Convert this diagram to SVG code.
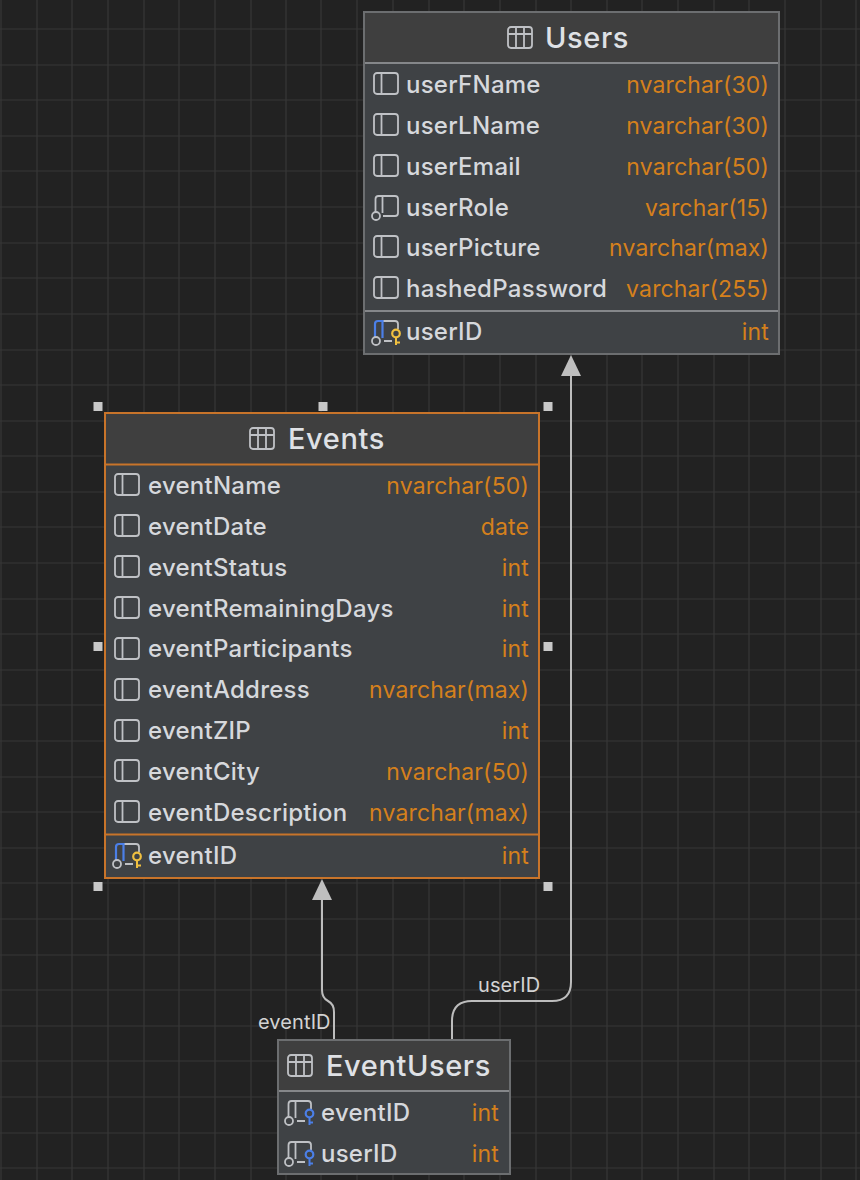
<svg xmlns="http://www.w3.org/2000/svg" width="860" height="1180" viewBox="0 0 860 1180">
<defs>
<style>
text{font-family:"Inter","Liberation Sans",sans-serif}
.title{font-size:29px;font-weight:500;fill:#dfe1e5;letter-spacing:.6px}
.n{font-size:24px;font-weight:500;fill:#d6d8dc;letter-spacing:.25px}
.t{font-size:23px;fill:#d5801c;text-anchor:end;letter-spacing:.15px}
.lab{font-size:20px;fill:#d3d3d3;letter-spacing:.1px}
.body{fill:#3f4245}
.head{fill:#3f3f3f}
.ic{fill:none;stroke:#bfc1c5;stroke-width:1.800}
.conn{fill:none;stroke:#bdbdbd;stroke-width:2}
.h{fill:#c8c8c8}
.a{fill:#bfbfbf}
</style>
<g id="col"><rect x="0" y="0" width="24" height="21" rx="3" class="ic"/><path d="M7.500 0V21" class="ic"/></g>
<g id="tbl"><rect x="0" y="0" width="24" height="21" rx="3" class="ic"/><path d="M0 7H24M8 0V21M16 0V21" class="ic"/></g>
<g id="fk"><path d="M1.500 16V3Q1.500 0 4.500 0H21Q24 0 24 3V17Q24 20 21 20H9M8.500 0V17" class="ic"/><circle cx="2" cy="20" r="4" fill="#3f4245" stroke="#bfc1c5" stroke-width="1.800"/></g>
<g id="pkf"><path d="M9 0H21Q24 0 24 3V8M10 20H18" class="ic"/><path d="M1 16V3Q1 0 4 0H8.500V17" fill="none" stroke="#4b7fe8" stroke-width="2.200"/><circle cx="2" cy="20" r="4" fill="#3f4245" stroke="#bfc1c5" stroke-width="1.800"/><circle cx="22" cy="12.500" r="3.800" fill="none" stroke="#f0c040" stroke-width="2.200"/><path d="M22 16V24M22 21.500H26" fill="none" stroke="#f0c040" stroke-width="2"/></g>
<g id="fkf"><path d="M1.500 16V3Q1.500 0 4.500 0H21Q24 0 24 3V8M8.500 0V17M10 20H18" class="ic"/><circle cx="2" cy="20" r="4" fill="#3f4245" stroke="#bfc1c5" stroke-width="1.800"/><circle cx="22.500" cy="12.500" r="3.800" fill="none" stroke="#4b7fe8" stroke-width="2.200"/><path d="M22.500 16V24M22.500 21.500H26" fill="none" stroke="#4b7fe8" stroke-width="2"/></g>
</defs>
<rect width="860" height="1180" fill="#222222"/>
<path id="grid" fill="none" stroke="#373737" stroke-width="1.200" d="M1 0V1180M37 0V1180M72 0V1180M108 0V1180M144 0V1180M179 0V1180M215 0V1180M251 0V1180M286 0V1180M321 0V1180M357 0V1180M393 0V1180M429 0V1180M464 0V1180M500 0V1180M536 0V1180M571 0V1180M607 0V1180M642 0V1180M678 0V1180M714 0V1180M749 0V1180M785 0V1180M821 0V1180M856 0V1180M0 29H860M0 65H860M0 100H860M0 136H860M0 171H860M0 207H860M0 243H860M0 278H860M0 314H860M0 350H860M0 385H860M0 421H860M0 456H860M0 492H860M0 527H860M0 563H860M0 599H860M0 634H860M0 670H860M0 705H860M0 741H860M0 777H860M0 812H860M0 848H860M0 883H860M0 919H860M0 955H860M0 990H860M0 1026H860M0 1061H860M0 1097H860M0 1133H860M0 1168H860"/>
<g id="connectors">
<path class="conn" d="M571 372V982Q571 1001 552 1001H472Q452 1001 452 1021V1040"/>
<path class="a" d="M571 355L581 376H561Z"/>
<path class="conn" d="M322 897V990Q322 998 328 1001Q334 1004 334 1012V1040"/>
<path class="a" d="M322 879L332 900H312Z"/>
<text class="lab" x="478" y="992">userID</text>
<text class="lab" x="258" y="1029">eventID</text>
</g>
<g id="users">
<rect x="364" y="12" width="415" height="342" class="body" stroke="#6c6e70" stroke-width="2"/>
<rect x="365" y="13" width="413" height="50" class="head"/>
<path d="M365 63H778M365 311H778" stroke="#85878a" stroke-width="2"/>
<use href="#tbl" x="508" y="27"/><text class="title" x="545" y="48">Users</text>
<use href="#col" x="374" y="73"/><text class="n" x="406" y="93">userFName</text><text class="t" x="769" y="93">nvarchar(30)</text>
<use href="#col" x="374" y="114"/><text class="n" x="406" y="134">userLName</text><text class="t" x="769" y="134">nvarchar(30)</text>
<use href="#col" x="374" y="155"/><text class="n" x="406" y="175">userEmail</text><text class="t" x="769" y="175">nvarchar(50)</text>
<use href="#fk" x="374" y="196"/><text class="n" x="406" y="216">userRole</text><text class="t" x="769" y="216">varchar(15)</text>
<use href="#col" x="374" y="236"/><text class="n" x="406" y="256">userPicture</text><text class="t" x="769" y="256">nvarchar(max)</text>
<use href="#col" x="374" y="277"/><text class="n" x="406" y="297" textLength="201">hashedPassword</text><text class="t" x="769" y="297">varchar(255)</text>
<use href="#pkf" x="374" y="321"/><text class="n" x="406" y="340">userID</text><text class="t" x="769" y="340">int</text>
</g>
<g id="events">
<rect x="105" y="413" width="434" height="465" class="body" stroke="#c8742a" stroke-width="2"/>
<rect x="106" y="414" width="432" height="50" class="head"/>
<path d="M106 464.500H538M106 834.500H538" stroke="#c8742a" stroke-width="2"/>
<use href="#tbl" x="250" y="428"/><text class="title" x="288" y="449">Events</text>
<use href="#col" x="115" y="474"/><text class="n" x="148" y="494">eventName</text><text class="t" x="529" y="494">nvarchar(50)</text>
<use href="#col" x="115" y="515"/><text class="n" x="148" y="535">eventDate</text><text class="t" x="529" y="535">date</text>
<use href="#col" x="115" y="556"/><text class="n" x="148" y="576">eventStatus</text><text class="t" x="529" y="576">int</text>
<use href="#col" x="115" y="597"/><text class="n" x="148" y="617">eventRemainingDays</text><text class="t" x="529" y="617">int</text>
<use href="#col" x="115" y="638"/><text class="n" x="148" y="657">eventParticipants</text><text class="t" x="529" y="657">int</text>
<use href="#col" x="115" y="679"/><text class="n" x="148" y="698">eventAddress</text><text class="t" x="529" y="698">nvarchar(max)</text>
<use href="#col" x="115" y="720"/><text class="n" x="148" y="739">eventZIP</text><text class="t" x="529" y="739">int</text>
<use href="#col" x="115" y="760"/><text class="n" x="148" y="780">eventCity</text><text class="t" x="529" y="780">nvarchar(50)</text>
<use href="#col" x="115" y="801"/><text class="n" x="148" y="821">eventDescription</text><text class="t" x="529" y="821">nvarchar(max)</text>
<use href="#pkf" x="115" y="844"/><text class="n" x="148" y="864">eventID</text><text class="t" x="529" y="864">int</text>
</g>
<g id="selection-handles">
<rect x="93.500" y="402" width="9" height="9" class="h"/><rect x="318.500" y="402" width="9" height="9" class="h"/><rect x="543.500" y="402" width="9" height="9" class="h"/>
<rect x="93.500" y="642" width="9" height="9" class="h"/><rect x="543.500" y="642" width="9" height="9" class="h"/>
<rect x="93.500" y="882" width="9" height="9" class="h"/><rect x="543.500" y="882" width="9" height="9" class="h"/>
</g>
<g id="eventusers">
<rect x="278" y="1040" width="232" height="134" class="body" stroke="#6c6e70" stroke-width="2"/>
<rect x="279" y="1041" width="230" height="50" class="head"/>
<path d="M279 1091H509" stroke="#85878a" stroke-width="2"/>
<use href="#tbl" x="288" y="1055"/><text class="title" x="326" y="1076">EventUsers</text>
<use href="#fkf" x="287" y="1101"/><text class="n" x="321" y="1121">eventID</text><text class="t" x="499" y="1121">int</text>
<use href="#fkf" x="287" y="1142"/><text class="n" x="321" y="1162">userID</text><text class="t" x="499" y="1162">int</text>
</g>
</svg>
